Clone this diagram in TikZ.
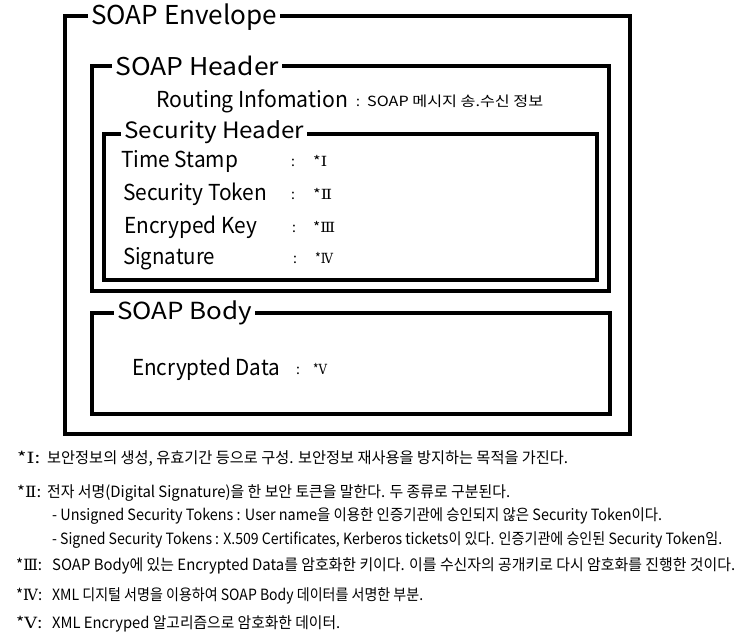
\documentclass[tikz,border=0pt]{standalone}
\usepackage{fontspec}
\setmainfont{Noto Sans CJK KR}
\newfontfamily\romfont{DejaVu Serif}
\usepackage{graphicx}
\newcommand\fitw[2]{\resizebox{#1pt}{\height}{#2}}
\newcommand\rn[1]{{\romfont #1}}
\begin{document}
\begin{tikzpicture}[x=1pt,y=-1pt,
  frame/.style={line width=4pt, draw=black},
  boxtitle/.style={fill=white, inner xsep=3pt, inner ysep=1pt, anchor=base west},
  txt/.style={inner sep=0pt, anchor=base west},
  item/.style={txt, font=\fontsize{22}{22}\selectfont},
  small/.style={txt, font=\fontsize{14}{14}\selectfont},
  note/.style={txt, font=\fontsize{15.5}{16}\selectfont}]
\useasboundingbox[fill=white] (0,0) rectangle (740,637);
% frames
\draw[frame] (65,16) rectangle (630,434);
\draw[frame] (92,66) rectangle (609,291);
\draw[frame] (104,134) rectangle (597,280);
\draw[frame] (92,313) rectangle (610,414);
% titles
\node[boxtitle, font=\fontsize{26}{26}\selectfont] (env) at (88,24) {\fitw{186}{SOAP Envelope}};
\node[boxtitle, font=\fontsize{24.5}{24.5}\selectfont] (hdr) at (112,75) {\fitw{164}{SOAP Header}};
\node[boxtitle, font=\fontsize{22.5}{22.5}\selectfont] (sec) at (121,138) {\fitw{180}{Security Header}};
\node[boxtitle, font=\fontsize{23.5}{23.5}\selectfont] (body) at (114,319) {\fitw{135}{SOAP Body}};
% routing
\node[item] (rout) at (156,107) {\fitw{192}{Routing Infomation}};
\node[small] (routc) at (356,106) {:};
\node[small] (routk) at (367,106) {\fitw{176}{SOAP 메시지 송.수신 정보}};
% security items
\node[item] (ts) at (121,167) {\fitw{117}{Time Stamp}};
\node[item] (st) at (123,200) {\fitw{144}{Security Token}};
\node[item] (ek) at (124,233) {\fitw{133}{Encryped Key}};
\node[item] (sg) at (123,264) {\fitw{92}{Signature}};
\node[small] (tsc) at (291,166) {:};
\node[small] (stc) at (291,199) {:};
\node[small] (ekc) at (292,232) {:};
\node[small] (sgc) at (293,263) {:};
\node[small] (tsm) at (313,166) {\fitw{14}{*\rn{Ⅰ}}};
\node[small] (stm) at (313,199) {\fitw{19}{*\rn{Ⅱ}}};
\node[small] (ekm) at (313,232) {\fitw{22}{*\rn{Ⅲ}}};
\node[small] (sgm) at (315,263) {\fitw{18}{*\rn{Ⅳ}}};
% body item
\node[item] (ed) at (132,375) {\fitw{148}{Encrypted Data}};
\node[small] (edc) at (296,374) {:};
\node[small] (edm) at (313,374) {\fitw{14}{*\rn{Ⅴ}}};
% footnotes
\node[note] (n1p) at (17,463) {\fitw{23}{*\rn{Ⅰ}:}};
\node[note] (n1) at (47,463) {\fitw{521}{보안정보의 생성, 유효기간 등으로 구성. 보안정보 재사용을 방지하는 목적을 가진다.}};
\node[note] (n2p) at (17,497) {\fitw{24}{*\rn{Ⅱ}:}};
\node[note] (n2) at (47,497) {\fitw{463}{전자 서명(Digital Signature)을 한 보안 토큰을 말한다. 두 종류로 구분된다.}};
\node[note] (n3) at (52,520) {\fitw{610}{- Unsigned Security Tokens : User name을 이용한 인증기관에 승인되지 않은 Security Token이다.}};
\node[note] (n4) at (52,544) {\fitw{670}{- Signed Security Tokens : X.509 Certificates, Kerberos tickets이 있다. 인증기관에 승인된 Security Token임.}};
\node[note] (n5p) at (16,570) {\fitw{26}{*\rn{Ⅲ}:}};
\node[note] (n5) at (52,570) {\fitw{683}{SOAP Body에 있는 Encrypted Data를 암호화한 키이다. 이를 수신자의 공개키로 다시 암호화를 진행한 것이다.}};
\node[note] (n6p) at (16,600) {\fitw{26}{*\rn{Ⅳ}:}};
\node[note] (n6) at (52,600) {\fitw{371}{XML 디지털 서명을 이용하여 SOAP Body 데이터를 서명한 부분.}};
\node[note] (n7p) at (16,628) {\fitw{26}{*\rn{Ⅴ}:}};
\node[note] (n7) at (52,628) {\fitw{288}{XML Encryped 알고리즘으로 암호화한 데이터.}};
\end{tikzpicture}
\end{document}
